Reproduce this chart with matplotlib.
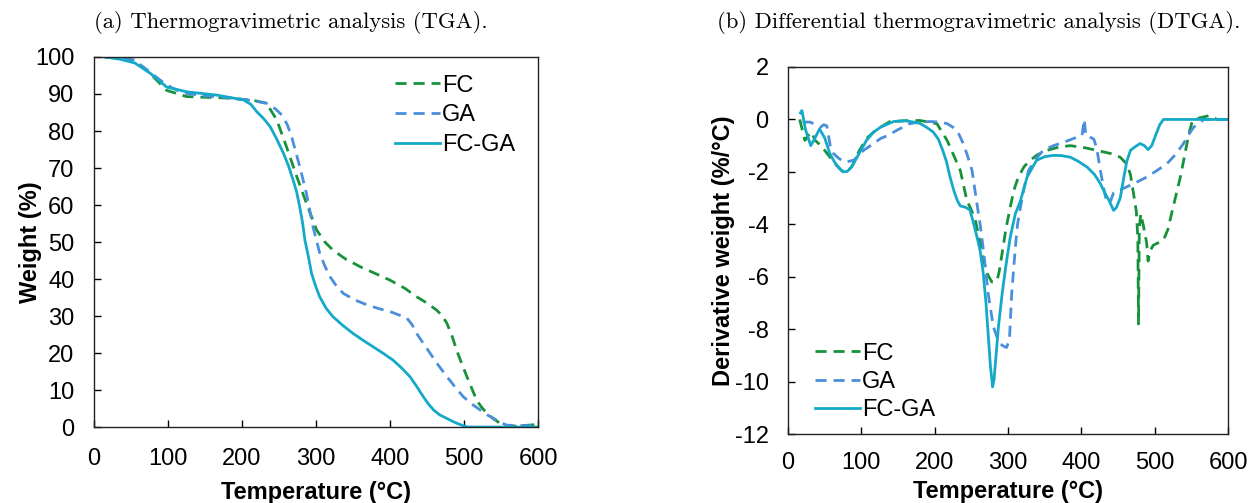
import numpy as np
import matplotlib
matplotlib.use("Agg")
import matplotlib.pyplot as plt

plt.rcParams['font.family'] = ['Liberation Sans', 'DejaVu Sans']
plt.rcParams['axes.unicode_minus'] = False

# colours of the three samples
c_fc = '#16933a'
c_ga = '#4a8fdb'
c_fcga = '#14a9c8'

# ---- TGA data (temperature in C, weight in %) ----
tga_fc_t = [15, 35, 53, 65, 80, 98, 125, 179, 215, 233, 247, 260, 274, 287, 301, 312, 323,
            340, 360, 380, 400, 420, 436, 450, 463, 470, 477, 484, 490, 497, 504, 511, 517,
            524, 531, 540, 549, 555, 562, 580, 600]
tga_fc_w = [100, 99.6, 99.2, 97.5, 94.7, 91, 89.3, 88.9, 88.3, 87.5, 83, 75.8, 67.7, 60.5,
            53.2, 50, 47.8, 45.4, 43.3, 41.5, 39.7, 37.5, 35.2, 33.5, 31.6, 30.2, 28, 24.5,
            20.8, 17.1, 13.6, 10.2, 7.3, 5.3, 3.7, 2.2, 1.0, 0.4, 0.2, 0.4, 0.7]

tga_ga_t = [15, 35, 53, 70, 89, 105, 120, 150, 188, 215, 233, 245, 254, 261, 267, 278, 287,
            296, 305, 312, 319, 328, 337, 352, 369, 385, 400, 412, 423, 430, 436, 445, 454,
            465, 477, 488, 499, 510, 522, 533, 544, 551, 558, 580, 600]
tga_ga_w = [100, 99.8, 99.2, 96.8, 93.8, 91.7, 90.3, 89.5, 88.9, 88.2, 87.5, 86, 84.3, 81.8,
            78.5, 70.4, 63.2, 54.1, 47, 43.5, 40.6, 38, 36.1, 34.4, 33, 32, 31.2, 30.3,
            29.4, 27.6, 25.3, 22.6, 20, 16.8, 13.6, 10.8, 8.2, 6.3, 4.6, 3.1, 1.9, 1.1, 0.5,
            0.4, 0.4]

tga_fcga_t = [15, 35, 55, 76, 98, 125, 166, 202, 212, 220, 229, 238, 247, 256, 263, 269, 274,
              278, 282, 285, 290, 294, 300, 305, 314, 323, 336, 350, 364, 377, 391, 404, 416,
              427, 436, 445, 452, 459, 467, 477, 487, 497, 505, 600]
tga_fcga_w = [100, 99.4, 98.4, 95.6, 91.9, 90.6, 89.7, 88.4, 87.2, 85.2, 83.4, 81.2, 77.8, 74,
              70.5, 66.8, 63.4, 59.5, 55, 50.5, 45.8, 41.5, 37.8, 35.2, 32, 29.8, 27.5, 25.3,
              23.4, 21.7, 19.9, 18.1, 15.9, 13.6, 11, 8.2, 6.2, 4.6, 3.3, 2.3, 1.3, 0.5, 0,
              0]

# ---- DTGA data (temperature in C, derivative weight in %/C) ----
dtga_fc_t = [16, 23, 28, 32, 37, 45, 57, 65, 73, 80, 87, 97, 107, 120, 139, 160, 180, 203,
             217, 228, 235, 244, 250, 256, 262, 268, 272, 278, 285, 288, 292, 297, 303, 308,
             314, 322, 330, 340, 353, 370, 385, 405, 421, 440, 453, 462, 467, 471, 475, 477,
             478, 479, 481, 485, 489, 491, 494, 498, 505, 512, 518, 523, 529, 535, 540, 544,
             548, 551, 560, 575, 585, 600]
dtga_fc_d = [0, -0.8, -0.6, -0.48, -0.8, -1.0, -1.43, -1.7, -1.95, -2.0, -1.8, -1.2, -0.73,
             -0.4, -0.08, -0.05, -0.04, -0.16, -0.8, -1.5, -1.95, -3.1, -3.45, -3.9, -4.7,
             -5.5, -5.9, -6.2, -6.15, -5.8, -5.1, -4.2, -3.35, -2.7, -2.2, -1.8, -1.56,
             -1.35, -1.18, -1.05, -1.0, -1.08, -1.18, -1.3, -1.44, -1.7, -2.1, -2.8, -3.5,
             -4.5, -7.8, -4.2, -3.6, -4.1, -4.7, -5.4, -5.0, -4.8, -4.7, -4.6, -4.2, -3.6,
             -2.9, -2.2, -1.5, -0.92, -0.4, -0.1, 0.05, 0.15, 0.0, 0.0]

dtga_ga_t = [20, 30, 38, 44, 49, 53, 58, 62, 70, 78, 90, 103, 115, 126, 137, 148, 166, 180,
             194, 208, 217, 225, 232, 239, 245, 251, 257, 262, 267, 273, 280, 285, 289, 294,
             298, 302, 305, 308, 310, 313, 317, 322, 328, 338, 348, 362, 376, 390, 401, 404,
             406, 410, 417, 421, 426, 431, 435, 440, 444, 452, 462, 475, 489, 503, 517, 528,
             539, 546, 553, 560, 567, 580, 600]
dtga_ga_d = [-0.1, -0.1, -0.2, -0.3, -0.2, -0.25, -1.07, -1.3, -1.5, -1.63, -1.55, -1.18,
             -0.95, -0.73, -0.6, -0.42, -0.16, -0.1, -0.08, -0.1, -0.16, -0.3, -0.5, -0.92,
             -1.4, -1.95, -3.1, -4.0, -5.1, -6.65, -7.9, -8.3, -8.55, -8.65, -8.7, -8.4,
             -6.65, -5.6, -4.9, -4.0, -3.35, -2.6, -1.95, -1.5, -1.18, -1.0, -0.87, -0.72,
             -0.61, 0.0, -0.6, -0.65, -0.75, -1.1, -1.95, -2.7, -3.2, -3.1, -2.8, -2.7, -2.57,
             -2.4, -2.2, -1.95, -1.68, -1.35, -0.93, -0.6, -0.3, -0.15, 0.0, 0.0, 0.0]

dtga_fcga_t = [17, 19, 24, 31, 37, 43, 50, 57, 66, 75, 81, 87, 97, 107, 116, 126, 144, 160,
               171, 180, 189, 198, 205, 211, 216, 221, 226, 231, 235, 242, 248, 252, 257, 262,
               266, 270, 273, 276, 279, 281, 284, 287, 292, 297, 303, 310, 317, 326, 333, 339,
               350, 362, 373, 385, 396, 408, 418, 426, 432, 438, 444, 448, 453, 458, 462, 467,
               473, 480, 486, 491, 496, 502, 507, 512, 600]
dtga_fcga_d = [0.25, 0.34, -0.4, -1.0, -0.7, -0.36, -0.7, -1.3, -1.75, -2.0, -1.98, -1.8,
               -1.3, -0.8, -0.5, -0.3, -0.08, -0.05, -0.1, -0.15, -0.3, -0.48, -0.75, -1.18,
               -1.6, -2.2, -2.7, -3.1, -3.3, -3.35, -3.45, -3.85, -4.4, -5.0, -5.8, -7.0,
               -8.2, -9.4, -10.2, -9.9, -8.9, -7.9, -6.65, -5.6, -4.5, -3.6, -3.1, -2.2,
               -1.85, -1.56, -1.42, -1.37, -1.38, -1.44, -1.6, -1.82, -2.1, -2.45, -2.8, -3.1,
               -3.47, -3.35, -3.0, -2.2, -1.6, -1.18, -1.05, -0.92, -1.0, -1.15, -1.0, -0.55,
               -0.2, 0.0, 0.0]

labels = ['FC', 'GA', 'FC-GA']

fig = plt.figure(figsize=(12.5, 5.03), dpi=100)
ax1 = fig.add_axes([0.0752, 0.151, 0.3552, 0.7357])
ax2 = fig.add_axes([0.6304, 0.137, 0.352, 0.7298])

lw = 2.0
dash = (4, 2.5)

ax1.plot(tga_fc_t, tga_fc_w, color=c_fc, lw=lw, ls=(0, dash), label=labels[0])
ax1.plot(tga_ga_t, tga_ga_w, color=c_ga, lw=lw, ls=(0, dash), label=labels[1])
ax1.plot(tga_fcga_t, tga_fcga_w, color=c_fcga, lw=lw, label=labels[2])

ax2.plot(dtga_fc_t, dtga_fc_d, color=c_fc, lw=lw, ls=(0, dash), label=labels[0])
ax2.plot(dtga_ga_t, dtga_ga_d, color=c_ga, lw=lw, ls=(0, dash), label=labels[1])
ax2.plot(dtga_fcga_t, dtga_fcga_d, color=c_fcga, lw=lw, label=labels[2])

ax1.set_xlim(0, 600)
ax1.set_ylim(0, 100)
ax1.set_xticks(range(0, 601, 100))
ax1.set_yticks(range(0, 101, 10))
ax2.set_xlim(0, 600)
ax2.set_ylim(-12, 2)
ax2.set_xticks(range(0, 601, 100))
ax2.set_yticks(range(-12, 3, 2))

for ax in (ax1, ax2):
    ax.tick_params(direction='in', length=5, width=1, labelsize=17, pad=14)
    for s in ax.spines.values():
        s.set_linewidth(1.0)
        s.set_color('#222222')
ax1.tick_params(axis='x', pad=15)
ax2.tick_params(axis='x', pad=13)

ax1.set_xlabel('Temperature (°C)', fontsize=17, fontweight='bold', labelpad=8)
ax2.set_xlabel('Temperature (°C)', fontsize=17, fontweight='bold', labelpad=4)
ax1.set_ylabel('Weight (%)', fontsize=17, fontweight='bold', labelpad=-5)
ax2.set_ylabel('Derivative weight (%/°C)', fontsize=17, fontweight='bold', labelpad=0)

ax1.legend(loc='upper right', bbox_to_anchor=(0.97, 0.978), frameon=False, fontsize=17,
           handlelength=1.9, handletextpad=0.1, labelspacing=0.33, borderaxespad=0)
ax2.legend(loc='lower left', bbox_to_anchor=(0.04, 0.01), frameon=False, fontsize=17,
           handlelength=1.9, handletextpad=0.1, labelspacing=0.26, borderaxespad=0)

fig.text(0.233, 0.955, '(a) Thermogravimetric analysis (TGA).', family='cmr10',
         fontsize=16.3, ha='center', va='center')
fig.text(0.783, 0.955, '(b) Differential thermogravimetric analysis (DTGA).', family='cmr10',
         fontsize=16.3, ha='center', va='center')

fig.savefig('out.png', dpi=100)
